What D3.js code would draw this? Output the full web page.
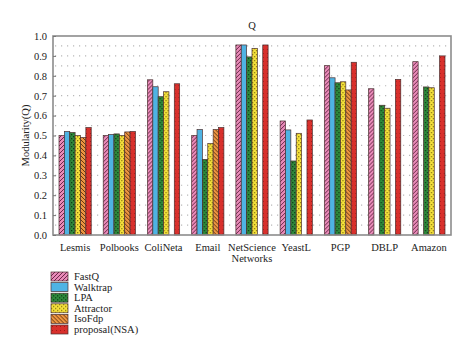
<!DOCTYPE html>
<html lang="en">
<head>
<meta charset="UTF-8">
<title>Q modularity</title>
<script src="https://d3js.org/d3.v7.min.js"></script>
<style>
    body { margin: 0; padding: 0; background: #fff; }
    svg text { font-family: "Liberation Serif", "DejaVu Serif", serif; fill: #222; }
</style>
</head>
<body>
<svg id="chart" width="474" height="352"></svg>
<script>
// networks on the x axis
const networks = ["Lesmis", "Polbooks", "ColiNeta", "Email", "NetScience", "YeastL", "PGP", "DBLP", "Amazon"];
const methods = ["FastQ", "Walktrap", "LPA", "Attractor", "IsoFdp", "proposal(NSA)"];
const yTicks = [0.0, 0.1, 0.2, 0.3, 0.4, 0.5, 0.6, 0.7, 0.8, 0.9, 1.0];

// modularity values per method, one per network (null = no bar)
const fastQ     = [0.50, 0.50, 0.78, 0.50, 0.955, 0.573, 0.851, 0.735, 0.871];
const walktrap  = [0.52, 0.505, 0.745, 0.53, 0.955, 0.528, 0.79, null, null];
const lpa       = [0.515, 0.508, 0.695, 0.38, 0.895, 0.372, 0.765, 0.652, 0.744];
const attractor = [0.50, 0.50, 0.72, 0.46, 0.938, 0.511, 0.77, 0.637, 0.74];
const isoFdp    = [0.49, 0.518, null, 0.53, null, null, 0.729, null, null];
const nsa       = [0.54, 0.52, 0.76, 0.54, 0.955, 0.578, 0.868, 0.782, 0.90];

const series = [fastQ, walktrap, lpa, attractor, isoFdp, nsa];
const fills = ["url(#p0)", "url(#p1)", "url(#p2)", "url(#p3)", "url(#p4)", "url(#p5)"];

const svg = d3.select("#chart");
const margin = { top: 36, right: 23, bottom: 117, left: 53 };
const W = 474, H = 352;
const iw = W - margin.left - margin.right;
const ih = H - margin.top - margin.bottom;

// patterns
const defs = svg.append("defs");
function pat(id, bg, draw) {
    const p = defs.append("pattern").attr("id", id)
        .attr("patternUnits", "userSpaceOnUse").attr("width", 4).attr("height", 4);
    p.append("rect").attr("width", 4).attr("height", 4).attr("fill", bg);
    draw(p);
}
pat("p0", "#e98ab8", p => p.append("path").attr("d", "M-1,1 l2,-2 M0,4 l4,-4 M3,5 l2,-2").attr("stroke", "#6a2a4a").attr("stroke-width", 1));
pat("p1", "#4fb3e3", p => {});
pat("p2", "#2f8a3c", p => { p.append("rect").attr("x", 0).attr("y", 0).attr("width", 1.3).attr("height", 1.3).attr("fill", "#0f3d18");
                             p.append("rect").attr("x", 2).attr("y", 2).attr("width", 1.3).attr("height", 1.3).attr("fill", "#0f3d18"); });
pat("p3", "#f6e23c", p => { p.append("rect").attr("x", 0).attr("y", 0).attr("width", 1.3).attr("height", 1.3).attr("fill", "#8a7a10");
                             p.append("rect").attr("x", 2).attr("y", 2).attr("width", 1.3).attr("height", 1.3).attr("fill", "#8a7a10"); });
pat("p4", "#ec9442", p => p.append("path").attr("d", "M-1,3 l2,2 M0,0 l4,4 M3,-1 l2,2").attr("stroke", "#6a3a10").attr("stroke-width", 1));
pat("p5", "#d8302c", p => p.append("rect").attr("x", 1).attr("y", 1).attr("width", 1).attr("height", 1).attr("fill", "#a01818"));

const g = svg.append("g").attr("transform", `translate(${margin.left},${margin.top})`);

const x0 = d3.scaleBand().domain(networks).range([0, iw]);
const x1 = d3.scaleBand().domain(d3.range(methods.length)).range([6, x0.bandwidth() - 6]);
const y = d3.scaleLinear().domain([0, 1]).range([ih, 0]);

// dotted grid every 0.05
const gridVals = d3.range(0.05, 1.0, 0.05);
g.selectAll(".grid").data(gridVals).enter().append("line")
    .attr("x1", 2).attr("x2", iw)
    .attr("y1", d => y(d)).attr("y2", d => y(d))
    .attr("stroke", "#b8b8b8").attr("stroke-width", 1.2)
    .attr("stroke-dasharray", "1.2,4.8");

// bars
networks.forEach((net, i) => {
    const grp = g.append("g").attr("transform", `translate(${x0(net)},0)`);
    series.forEach((s, j) => {
        if (s[i] == null) return;
        grp.append("rect")
            .attr("x", x1(j)).attr("width", x1.bandwidth())
            .attr("y", y(s[i])).attr("height", ih - y(s[i]))
            .attr("fill", fills[j])
            .attr("stroke", "#4a3030").attr("stroke-width", 0.7);
    });
});

// frame
g.append("rect").attr("width", iw).attr("height", ih)
    .attr("fill", "none").attr("stroke", "#8c8c8c").attr("stroke-width", 1.6);

// y axis
const yAxis = g.append("g")
    .call(d3.axisLeft(y).tickValues(yTicks).tickFormat(d3.format(".1f")).tickSize(-3).tickPadding(6));
yAxis.select(".domain").remove();
yAxis.selectAll("line").attr("stroke", "#777");
yAxis.selectAll("text").style("font-size", "10.5px");

// x axis
const xAxis = g.append("g").attr("transform", `translate(0,${ih})`)
    .call(d3.axisBottom(x0).tickSize(0).tickPadding(9));
xAxis.select(".domain").remove();
xAxis.selectAll("text").style("font-size", "10.5px");

// titles
svg.append("text").attr("x", 252).attr("y", 29).attr("text-anchor", "middle")
    .style("font-size", "10.5px").text("Q");
svg.append("text").attr("x", margin.left + iw / 2).attr("y", 262).attr("text-anchor", "middle")
    .style("font-size", "10.5px").text("Networks");
svg.append("text").attr("transform", `translate(29,${margin.top + ih / 2}) rotate(-90)`)
    .attr("text-anchor", "middle").style("font-size", "10.5px").text("Modularity(Q)");

// legend
const leg = svg.append("g").attr("transform", "translate(51,272)");
methods.forEach((m, j) => {
    const row = leg.append("g").attr("transform", `translate(0,${j * 10.6})`);
    row.append("rect").attr("width", 17).attr("height", 9)
        .attr("fill", fills[j]).attr("stroke", "#4a3030").attr("stroke-width", 0.7);
    row.append("text").attr("x", 23).attr("y", 8).style("font-size", "10.5px").text(m);
});
</script>
</body>
</html>
